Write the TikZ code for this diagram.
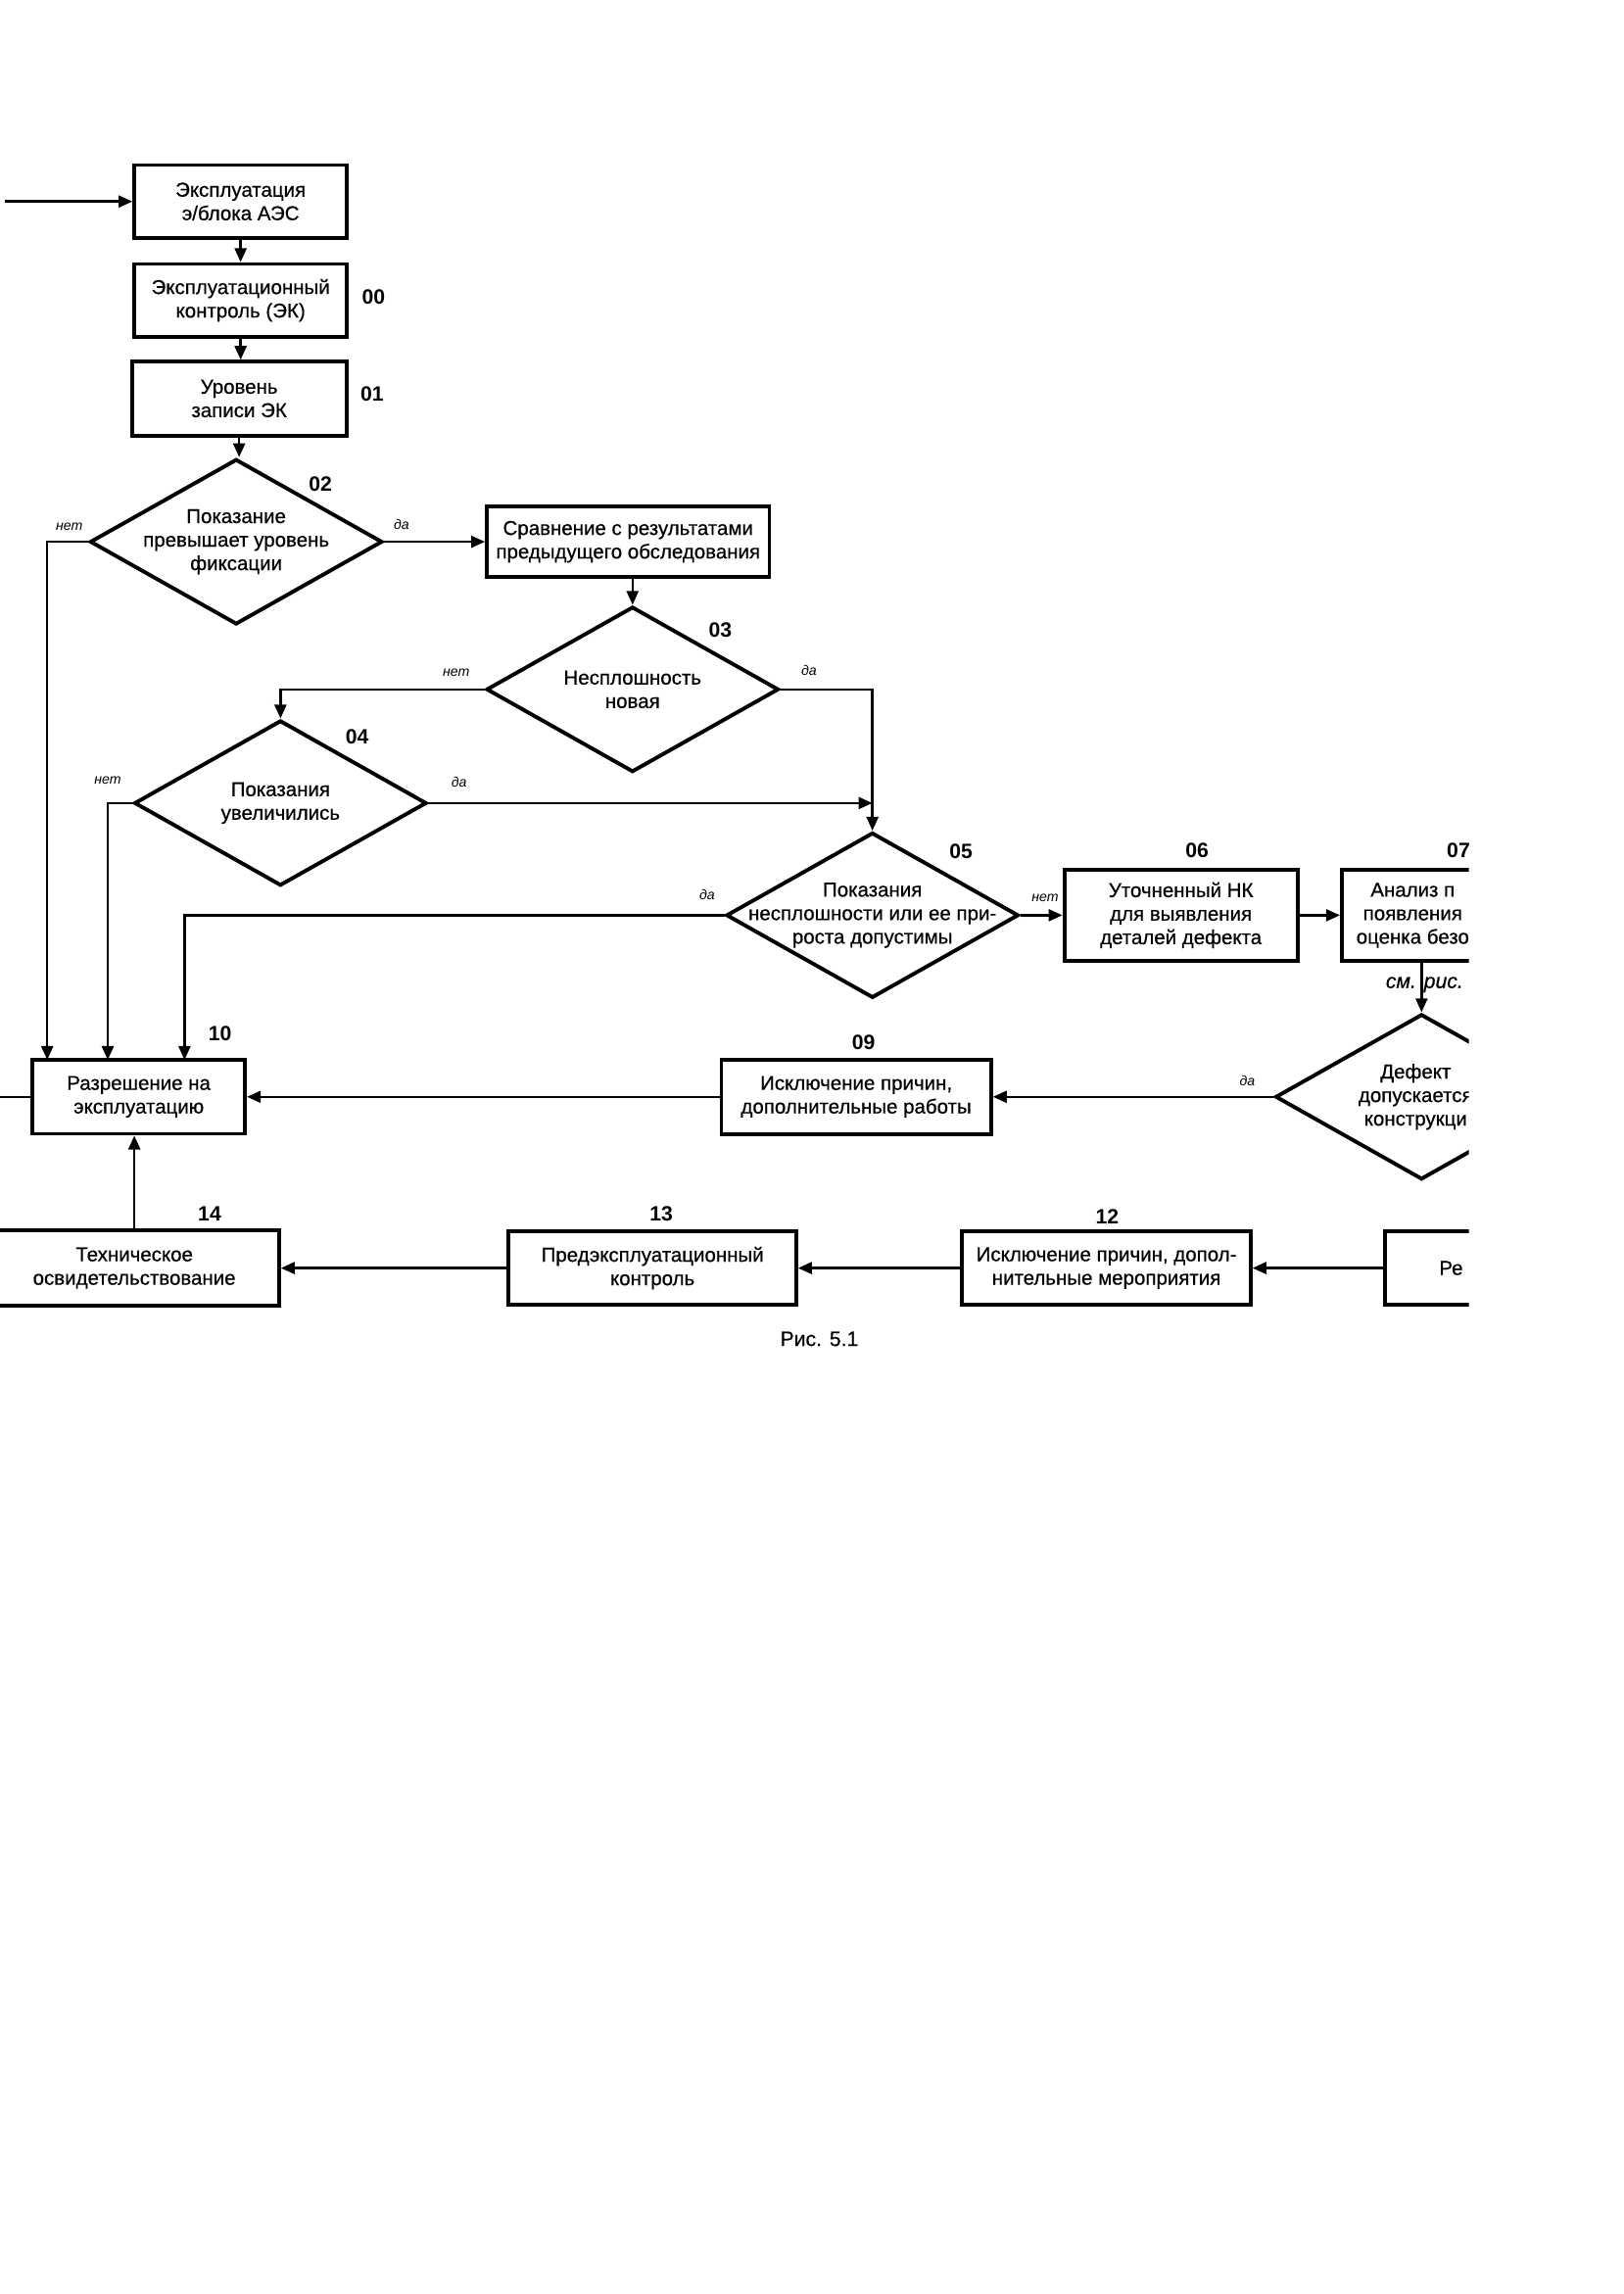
\documentclass[tikz,border=0pt]{standalone}
\usepackage{fontspec}
\setmainfont{Liberation Sans}
\newfontfamily\scanfont{Liberation Sans}[FakeBold=0.5]
\usepackage{tikz}
\usetikzlibrary{shapes,arrows.meta,positioning,calc}

\begin{document}
\begin{tikzpicture}[x=0.15mm,y=-0.15mm,
    blk/.style={draw, line width=1.1pt, align=center, inner sep=0pt, font=\scanfont\fontsize{5.8}{6.8}\selectfont},
    dec/.style={diamond, draw, line width=1.1pt, inner sep=0pt, minimum width=29.7mm, minimum height=16.8mm},
    dtxt/.style={align=center, font=\scanfont\fontsize{5.8}{6.8}\selectfont},
    num/.style={font=\fontsize{6}{7}\selectfont\bfseries},
    yn/.style={font=\fontsize{4}{4}\selectfont\itshape},
    arr/.style={-{Triangle[length=4pt,width=3.4pt]}, line width=0.7pt},
    ln/.style={line width=0.7pt}]
    \useasboundingbox (0,0) rectangle (1100,1554);
    \begin{scope}
    \clip (0,0) rectangle (995,1554);

    % main column
    \node[blk, minimum width=21.6mm, minimum height=7.4mm] (expl) at (163,136.5) {Эксплуатация\\э/блока АЭС};
    \node[blk, minimum width=21.6mm, minimum height=7.4mm] (ek) at (163,203.5) {Эксплуатационный\\контроль (ЭК)};
    \node[blk, minimum width=21.8mm, minimum height=7.5mm] (lvl) at (162,270) {Уровень\\записи ЭК};
    \node[dec, label={[dtxt]center:Показание\\превышает уровень\\фиксации}] (d02) at (160,367) {};
    \node[blk, minimum width=28.7mm, minimum height=7.2mm] (cmp) at (425.5,367) {Сравнение с результатами\\предыдущего обследования};
    \node[dec, label={[dtxt]center:Несплошность\\новая}] (d03) at (428.5,467) {};
    \node[dec, label={[dtxt]center:Показания\\увеличились}] (d04) at (190,544) {};
    \node[dec, label={[dtxt]center:Показания\\несплошности или ее при-\\роста допустимы}] (d05) at (591,620) {};
    \node[blk, minimum width=23.7mm, minimum height=9.3mm] (nk) at (800,620) {Уточненный НК\\для выявления\\деталей дефекта};
    \node[blk, minimum width=14.4mm, minimum height=9.3mm] (anl) at (957,620) {Анализ п\\появления\\оценка безо};
    \node[dec, label={[dtxt,xshift=-0.6mm]center:Дефект\\допускается\\конструкци}] (d08) at (963,743) {};

    % middle row
    \node[blk, minimum width=27.4mm, minimum height=7.6mm] (fix) at (580,743) {Исключение причин,\\дополнительные работы};
    \node[blk, minimum width=21.6mm, minimum height=7.5mm] (perm) at (94,743) {Разрешение на\\эксплуатацию};

    % bottom row
    \node[blk, minimum width=29.4mm, minimum height=7.6mm] (tech) at (91,859) {Техническое\\освидетельствование};
    \node[blk, minimum width=29.2mm, minimum height=7.5mm] (pre) at (442,859) {Предэксплуатационный\\контроль};
    \node[blk, minimum width=29.3mm, minimum height=7.5mm] (elim) at (749.5,859) {Исключение причин, допол-\\нительные мероприятия};
    \node[blk, minimum width=13.5mm, minimum height=7.5mm] (rep) at (983,859) {Ре};

    % numbers
    \node[num] (n00) at (253,201) {00};
    \node[num] (n01) at (252,267) {01};
    \node[num] (n02) at (217,328) {02};
    \node[num] (n03) at (488,427) {03};
    \node[num] (n04) at (242,499) {04};
    \node[num] (n05) at (651,577) {05};
    \node[num] (n06) at (811,576) {06};
    \node[num] (n07) at (988,576) {07};
    \node[num] (n09) at (585,706) {09};
    \node[num] (n10) at (149,700) {10};
    \node[num] (n14) at (142,822) {14};
    \node[num] (n13) at (448,822) {13};
    \node[num] (n12) at (750,824) {12};

    % yes / no
    \node[yn] (no02) at (47,357) {нет};
    \node[yn] (yes02) at (272,355) {да};
    \node[yn] (no03) at (309,456) {нет};
    \node[yn] (yes03) at (548,454) {да};
    \node[yn] (no04) at (73,529) {нет};
    \node[yn] (yes04) at (311,530) {да};
    \node[yn] (yes05) at (479,606) {да};
    \node[yn] (no05) at (708,608) {нет};
    \node[yn] (yes08) at (845,732) {да};
    \node[font=\scanfont\fontsize{6}{7}\selectfont\itshape] (see) at (965,667) {см. рис.};

    \coordinate (ent) at (3,136.5);
    \coordinate (exit) at (0,743);
    \coordinate (in02) at (32,718);
    \coordinate (in04) at (73,718);
    \coordinate (in05) at (125,718);

    % connectors
    \draw[arr] (ent) -- (expl.west);
    \draw[arr] (expl.south) -- (ek.north);
    \draw[arr] (ek.south) -- (lvl.north -| ek.south);
    \draw[arr] (lvl.south) -- (d02.north -| lvl.south);
    \draw[arr] (d02.east) -- (cmp.west);
    \draw[arr] (d02.west) -| (in02);
    \draw[arr] (d03.north |- cmp.south) -- (d03.north);
    \draw[arr] (d03.west) -| (d04.north);
    \draw[arr] (d03.east) -| (d05.north);
    \draw[arr] (d04.east) -- (d04.east -| d05.north);
    \draw[arr] (d04.west) -| (in04);
    \draw[arr] (d05.west) -| (in05);
    \draw[arr] (d05.east) -- (nk.west);
    \draw[arr] (nk.east) -- (anl.west);
    \draw[arr] (d08.north |- anl.south) -- (d08.north);
    \draw[arr] (d08.west) -- (fix.east);
    \draw[arr] (fix.west) -- (perm.east);
    \draw[ln] (perm.west) -- (exit);
    \draw[arr] (tech.north) -- (tech.north |- perm.south);
    \draw[arr] (pre.west) -- (tech.east);
    \draw[arr] (elim.west) -- (pre.east);
    \draw[arr] (rep.west) -- (elim.east);
    \end{scope}

    \node[font=\scanfont\fontsize{6}{7}\selectfont] (cap) at (555,907) {Рис. 5.1};
\end{tikzpicture}
\end{document}
